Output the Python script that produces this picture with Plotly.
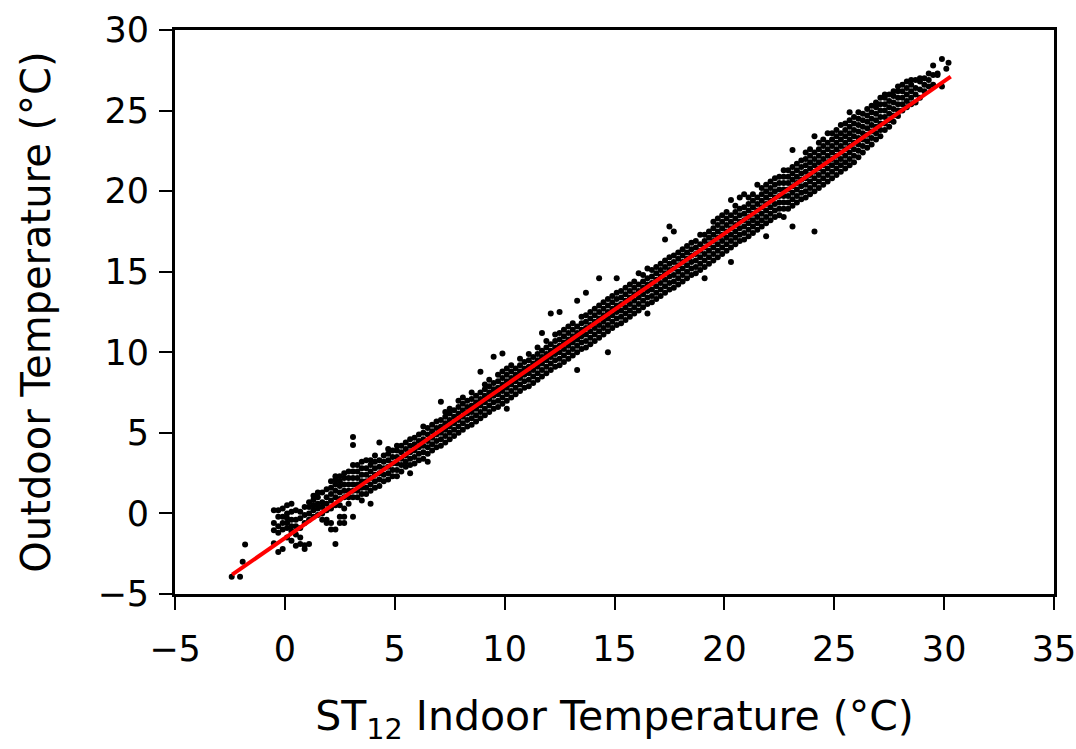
import plotly.graph_objects as go

# Indoor temperature (x) for each vertical column of points, and the outdoor
# temperatures (y) for that column.
indoor_columns = [
    -2.42, -2.04, -1.92, -1.81,
    -0.5, -0.3, -0.1, 0.1, 0.3, 0.5, 0.7, 0.9, 1.1, 1.3, 1.5, 1.7, 1.9,
    2.1, 2.3, 2.5, 2.7, 2.9, 3.1, 3.3, 3.5, 3.7, 3.9,
    4.1, 4.3, 4.5, 4.7, 4.9, 5.1, 5.3, 5.5, 5.7, 5.9,
    6.1, 6.3, 6.5, 6.7, 6.9, 7.1, 7.3, 7.5, 7.7, 7.9,
    8.1, 8.3, 8.5, 8.7, 8.9, 9.1, 9.3, 9.5, 9.7, 9.9,
    10.1, 10.3, 10.5, 10.7, 10.9, 11.1, 11.3, 11.5, 11.7, 11.9,
    12.1, 12.3, 12.5, 12.7, 12.9, 13.1, 13.3, 13.5, 13.7, 13.9,
    14.1, 14.3, 14.5, 14.7, 14.9, 15.1, 15.3, 15.5, 15.7, 15.9,
    16.1, 16.3, 16.5, 16.7, 16.9, 17.1, 17.3, 17.5, 17.7, 17.9,
    18.1, 18.3, 18.5, 18.7, 18.9, 19.1, 19.3, 19.5, 19.7, 19.9,
    20.1, 20.3, 20.5, 20.7, 20.9, 21.1, 21.3, 21.5, 21.7, 21.9,
    22.1, 22.3, 22.5, 22.7, 22.9, 23.1, 23.3, 23.5, 23.7, 23.9,
    24.1, 24.3, 24.5, 24.7, 24.9, 25.1, 25.3, 25.5, 25.7, 25.9,
    26.1, 26.3, 26.5, 26.7, 26.9, 27.1, 27.3, 27.5, 27.7, 27.9,
    28.1, 28.3, 28.5, 28.7, 28.9, 29.1, 29.3, 29.5, 29.7, 29.9,
    30.1, 30.2,
]

outdoor_columns = [
    [-3.93], [-3.93], [-3.0], [-1.93],
    [-1.85, -1.05, -0.6, 0.2],
    [-2.4, -1.2, -0.8, -0.2, 0.2],
    [-2.2, -1.0, -0.6, -0.2, 0.3],
    [-1.5, -0.9, -0.6, -0.3, 0.0, 0.5],
    [-1.7, -1.1, -0.8, -0.4, 0.1, 0.6],
    [-2.0, -1.3, -0.8, -0.4, 0.2],
    [-1.9, -1.5, -0.9, -0.3, 0.1],
    [-2.2, -1.97, -0.6, -0.1, 0.4],
    [-1.9, -0.4, 0.0, 0.4, 0.7],
    [-0.2, 0.2, 0.5, 0.83, 1.1],
    [-0.1, 0.3, 0.6, 1.0, 1.3],
    [-0.4, 0.0, 0.4, 0.7, 1.3],
    [-0.6, -0.4, 0.2, 0.6, 1.0, 1.5],
    [-1.0, -0.6, 0.3, 0.8, 1.2, 1.6, 2.0],
    [-1.9, -1.0, 0.5, 1.0, 1.4, 1.8, 2.1, 2.3],
    [-0.6, -0.2, 0.5, 0.9, 1.3, 1.7, 2.0, 2.3],
    [-0.6, -0.2, 0.3, 1.0, 1.4, 1.8, 2.2, 2.5],
    [0.6, 1.0, 1.4, 1.8, 2.2, 2.6],
    [-0.2, 1.0, 1.4, 1.8, 2.2, 2.6, 3.0, 4.25, 4.74],
    [1.0, 1.4, 1.8, 2.2, 2.6, 3.0],
    [0.8, 1.2, 1.6, 2.0, 2.4, 2.8, 3.2],
    [1.2, 1.6, 2.0, 2.4, 2.8, 3.3],
    [0.6, 1.4, 1.8, 2.2, 2.6, 3.0, 3.3],
    [1.6, 2.0, 2.4, 2.8, 3.2, 3.6],
    [1.7, 2.1, 2.5, 2.9, 3.3, 4.4],
    [2.0, 2.4, 2.8, 3.2, 3.6],
    [2.1, 2.5, 2.9, 3.3, 3.7, 4.0],
    [2.3, 2.7, 3.1, 3.5, 3.9],
    [2.3, 2.7, 3.1, 3.5, 3.9, 4.2],
    [2.6, 3.0, 3.4, 3.8, 4.2],
    [2.9, 3.2, 3.6, 4.0, 4.4],
    [2.5, 3.0, 3.4, 3.8, 4.2, 4.6],
    [3.1, 3.5, 3.9, 4.3, 4.7],
    [3.3, 3.7, 4.1, 4.5, 4.9],
    [3.4, 3.8, 4.2, 4.6, 5.0, 5.4],
    [3.2, 3.7, 4.1, 4.5, 4.9, 5.3],
    [3.9, 4.3, 4.7, 5.1, 5.5],
    [4.1, 4.5, 4.9, 5.3, 5.7],
    [4.2, 4.6, 5.0, 5.4, 5.8, 6.93],
    [4.4, 4.8, 5.2, 5.6, 6.0, 6.3],
    [4.6, 5.0, 5.4, 5.8, 6.2, 6.5],
    [4.8, 5.2, 5.6, 6.0, 6.4],
    [5.0, 5.4, 5.8, 6.2, 6.6, 7.0],
    [5.2, 5.6, 6.0, 6.4, 6.8, 7.2],
    [5.4, 5.8, 6.2, 6.6, 7.0],
    [5.5, 5.9, 6.3, 6.7, 7.1, 7.5],
    [5.7, 6.1, 6.5, 6.9, 7.3],
    [5.9, 6.3, 6.7, 7.1, 7.5, 8.79],
    [6.1, 6.5, 6.9, 7.3, 7.7, 8.0],
    [6.3, 6.7, 7.1, 7.5, 7.9, 8.3],
    [6.5, 6.9, 7.3, 7.7, 8.1, 9.72],
    [6.6, 7.0, 7.4, 7.8, 8.2, 8.6],
    [6.8, 7.2, 7.6, 8.0, 8.4, 8.8, 9.93],
    [6.5, 7.0, 7.4, 7.8, 8.2, 8.6, 9.0],
    [7.2, 7.6, 8.0, 8.4, 8.8, 9.2],
    [7.4, 7.8, 8.2, 8.6, 9.0],
    [7.6, 8.0, 8.4, 8.8, 9.2, 9.6],
    [7.8, 8.2, 8.6, 9.0, 9.4],
    [7.9, 8.3, 8.7, 9.1, 9.5, 9.9],
    [8.1, 8.5, 8.9, 9.3, 9.7],
    [8.3, 8.7, 9.1, 9.5, 9.9, 10.3],
    [8.5, 8.9, 9.3, 9.7, 10.1, 11.2],
    [8.7, 9.1, 9.5, 9.9, 10.3, 10.7],
    [8.9, 9.3, 9.7, 10.1, 10.5, 12.4],
    [9.1, 9.5, 9.9, 10.3, 10.7, 11.1],
    [9.2, 9.6, 10.0, 10.4, 10.8, 11.2, 12.5],
    [9.4, 9.8, 10.2, 10.6, 11.0, 11.4],
    [9.6, 10.0, 10.4, 10.8, 11.2, 11.6],
    [9.8, 10.2, 10.6, 11.0, 11.4, 11.8],
    [8.9, 10.0, 10.4, 10.8, 11.2, 11.6, 13.2],
    [10.2, 10.6, 11.0, 11.4, 11.8, 12.2],
    [10.3, 10.7, 11.1, 11.5, 11.9, 12.3, 13.7],
    [10.5, 10.9, 11.3, 11.7, 12.1, 12.5],
    [10.7, 11.1, 11.5, 11.9, 12.3, 12.7],
    [10.9, 11.3, 11.7, 12.1, 12.5, 12.9, 14.6],
    [11.1, 11.5, 11.9, 12.3, 12.7, 13.1],
    [10.0, 11.3, 11.7, 12.1, 12.5, 12.9, 13.3],
    [11.5, 11.9, 12.3, 12.7, 13.1, 13.5],
    [11.7, 12.1, 12.5, 12.9, 13.3, 13.7, 14.6],
    [11.8, 12.2, 12.6, 13.0, 13.4, 13.8],
    [12.0, 12.4, 12.8, 13.2, 13.6, 14.0],
    [12.2, 12.6, 13.0, 13.4, 13.8, 14.2],
    [12.4, 12.8, 13.2, 13.6, 14.0, 14.4],
    [12.6, 13.0, 13.4, 13.8, 14.2, 14.9],
    [12.8, 13.2, 13.6, 14.0, 14.4, 14.8],
    [12.4, 13.0, 13.4, 13.8, 14.2, 14.6, 15.2],
    [13.1, 13.5, 13.9, 14.3, 14.7, 15.1],
    [13.3, 13.7, 14.1, 14.5, 14.9, 15.3],
    [13.5, 13.9, 14.3, 14.7, 15.1, 15.5],
    [13.7, 14.1, 14.5, 14.9, 15.3, 15.7, 17.0],
    [13.9, 14.3, 14.7, 15.1, 15.5, 15.9, 17.8],
    [14.0, 14.4, 14.8, 15.2, 15.6, 16.0, 17.5],
    [14.2, 14.6, 15.0, 15.4, 15.8, 16.2],
    [14.4, 14.8, 15.2, 15.6, 16.0, 16.4],
    [14.6, 15.0, 15.4, 15.8, 16.2, 16.6],
    [14.8, 15.2, 15.6, 16.0, 16.4, 16.8],
    [14.9, 15.3, 15.7, 16.1, 16.5, 16.9],
    [15.1, 15.5, 15.9, 16.3, 16.7, 17.3],
    [14.6, 15.3, 15.7, 16.1, 16.5, 16.9, 17.3],
    [15.5, 15.9, 16.3, 16.7, 17.1, 17.5],
    [15.7, 16.1, 16.5, 16.9, 17.3, 17.7, 18.1],
    [15.9, 16.3, 16.7, 17.1, 17.5, 17.9, 18.3],
    [16.1, 16.5, 16.9, 17.3, 17.7, 18.1, 18.5],
    [16.3, 16.7, 17.1, 17.5, 17.9, 18.3, 18.7],
    [15.6, 16.5, 16.9, 17.3, 17.7, 18.1, 18.5, 19.45],
    [16.7, 17.1, 17.5, 17.9, 18.3, 18.7, 19.1],
    [16.9, 17.3, 17.7, 18.1, 18.5, 18.9, 19.6],
    [17.0, 17.4, 17.8, 18.2, 18.6, 19.0, 19.8],
    [17.2, 17.6, 18.0, 18.4, 18.8, 19.2, 19.6],
    [17.4, 17.8, 18.2, 18.6, 19.0, 19.4, 19.8],
    [17.6, 18.0, 18.4, 18.8, 19.2, 19.6, 20.4],
    [17.8, 18.2, 18.6, 19.0, 19.4, 19.8, 20.2],
    [17.2, 18.0, 18.4, 18.8, 19.2, 19.6, 20.0, 20.4],
    [18.2, 18.6, 19.0, 19.4, 19.8, 20.2, 20.6],
    [18.4, 18.8, 19.2, 19.6, 20.0, 20.4, 20.8],
    [18.5, 18.9, 19.3, 19.7, 20.1, 20.5, 20.9],
    [18.4, 18.9, 19.3, 19.7, 20.1, 20.5, 20.9, 21.3],
    [18.9, 19.3, 19.7, 20.1, 20.5, 20.9, 21.3],
    [17.8, 19.1, 19.5, 19.9, 20.3, 20.7, 21.1, 21.5, 22.55],
    [19.3, 19.7, 20.1, 20.5, 20.9, 21.3, 21.7],
    [19.5, 19.9, 20.3, 20.7, 21.1, 21.5, 21.9],
    [19.6, 20.0, 20.4, 20.8, 21.2, 21.6, 22.0, 22.4],
    [19.8, 20.2, 20.6, 21.0, 21.4, 21.8, 22.2, 22.6],
    [17.5, 20.0, 20.4, 20.8, 21.2, 21.6, 22.0, 22.4, 23.4],
    [20.2, 20.6, 21.0, 21.4, 21.8, 22.2, 22.6, 23.0],
    [20.4, 20.8, 21.2, 21.6, 22.0, 22.4, 22.8, 23.2],
    [20.6, 21.0, 21.4, 21.8, 22.2, 22.6, 23.0, 23.6],
    [20.8, 21.2, 21.6, 22.0, 22.4, 22.8, 23.2, 23.6],
    [21.0, 21.4, 21.8, 22.2, 22.6, 23.0, 23.4, 23.8],
    [21.2, 21.6, 22.0, 22.4, 22.8, 23.2, 23.6, 24.1],
    [21.4, 21.8, 22.2, 22.6, 23.0, 23.4, 23.8, 24.2],
    [21.6, 22.0, 22.4, 22.8, 23.2, 23.6, 24.0, 24.4, 24.9],
    [21.8, 22.2, 22.6, 23.0, 23.4, 23.8, 24.2, 24.6],
    [22.1, 22.5, 22.9, 23.3, 23.7, 24.1, 24.5, 24.9],
    [22.4, 22.8, 23.2, 23.6, 24.0, 24.4, 24.8],
    [22.7, 23.1, 23.5, 23.9, 24.3, 24.7, 25.1],
    [22.9, 23.3, 23.7, 24.1, 24.5, 24.9, 25.3],
    [23.2, 23.6, 24.0, 24.4, 24.8, 25.2, 25.5],
    [23.4, 23.8, 24.2, 24.6, 25.0, 25.4, 25.8],
    [23.8, 24.2, 24.6, 25.0, 25.4, 25.8, 26.0],
    [24.0, 24.4, 24.8, 25.2, 25.6, 26.0],
    [24.3, 24.7, 25.1, 25.5, 25.9, 26.2],
    [24.66, 25.0, 25.4, 25.8, 26.2, 26.5],
    [25.0, 25.4, 25.8, 26.2, 26.6],
    [25.2, 25.6, 26.0, 26.4, 26.8],
    [25.4, 25.8, 26.2, 26.6, 26.9],
    [25.5, 26.0, 26.4, 26.9],
    [25.8, 26.3, 26.8, 27.0],
    [26.2, 26.6, 27.0],
    [26.5, 26.9, 27.3],
    [26.6, 27.2, 27.8],
    [27.2, 27.3],
    [26.5, 28.2],
    [27.6],
    [27.97],
]

# Least-squares fit line drawn in red (end points)
fit_indoor = [-2.4, 30.3]
fit_outdoor = [-3.8, 27.1]

x_ticks = [-5, 0, 5, 10, 15, 20, 25, 30, 35]
y_ticks = [-5, 0, 5, 10, 15, 20, 25, 30]

indoor_temp = []
outdoor_temp = []
for xv, ys in zip(indoor_columns, outdoor_columns):
    for yv in ys:
        indoor_temp.append(xv)
        outdoor_temp.append(yv)

fig = go.Figure()
fig.add_trace(go.Scatter(
    x=indoor_temp, y=outdoor_temp, mode="markers",
    marker=dict(color="black", size=6, line=dict(width=0)),
    showlegend=False, hoverinfo="x+y",
))
fig.add_trace(go.Scatter(
    x=fit_indoor, y=fit_outdoor, mode="lines",
    line=dict(color="#ff0000", width=4),
    showlegend=False,
))

font = "DejaVu Sans, Liberation Sans, sans-serif"
axis_common = dict(
    showgrid=False, zeroline=False, automargin=False,
    showline=True, linecolor="black", linewidth=3, mirror=True,
    ticks="outside", ticklen=13, tickwidth=1.5, tickcolor="black",
    tickfont=dict(family=font, size=35, color="black"),
    ticklabeloverflow="allow",
)

def labels(vals):
    return [str(v).replace("-", "\u2212") for v in vals]

fig.update_layout(
    width=1076, height=749,
    margin=dict(l=175, r=22, t=30, b=155, pad=0),
    paper_bgcolor="white", plot_bgcolor="white",
    font=dict(family=font, color="black"),
    xaxis=dict(
        range=[-5, 35], tickvals=x_ticks, ticktext=labels(x_ticks),
        ticklabelstandoff=9,
        title=dict(text="ST<sub>12</sub> Indoor Temperature (°C)",
                   font=dict(family=font, size=41, color="black"), standoff=34),
        **axis_common,
    ),
    yaxis=dict(
        range=[-5, 30], tickvals=y_ticks, ticktext=labels(y_ticks),
        ticklabelstandoff=3,
        title=dict(text="Outdoor Temperature (°C)",
                   font=dict(family=font, size=40, color="black"), standoff=35),
        **axis_common,
    ),
)

fig.write_html("out.html")
